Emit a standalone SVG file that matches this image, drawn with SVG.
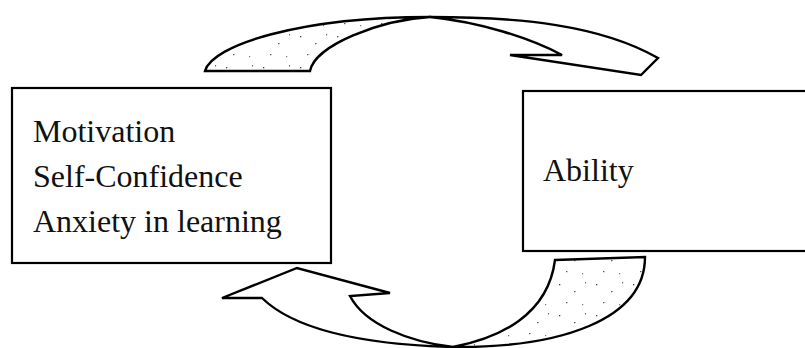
<svg xmlns="http://www.w3.org/2000/svg" width="805" height="348" viewBox="0 0 805 348">
<style>
.box{fill:#fff;stroke:#000;stroke-width:2.2}
.lbl{font-family:"Liberation Serif","Times New Roman",serif;font-size:32px;fill:#111}
.arr{stroke:#000;stroke-width:2.4;stroke-linejoin:miter}
.plain{fill:#fff}
.dots{fill:url(#stip)}
</style>
<defs>
<pattern id="stip" width="37" height="31" patternUnits="userSpaceOnUse">
<rect width="37" height="31" fill="#fff"/>
<rect x="4" y="5" width="1.3" height="1.3" fill="#444"/>
<rect x="19" y="12" width="1.5" height="1.2" fill="#555"/>
<rect x="30" y="3" width="1.1" height="1.4" fill="#666"/>
<rect x="11" y="23" width="1.4" height="1.2" fill="#555"/>
<rect x="27" y="25" width="1.2" height="1.2" fill="#777"/>
</pattern>
</defs>
<rect width="805" height="348" fill="#fff"/>
<g id="connectors">
<path class="arr dots" d="M205,71 C212,45 300,17 430,17 C380,20 315,45 310,71 Z"/>
<path class="arr plain" d="M430,17 C520,17 600,25 658,58 L641,75 L510,55 L562,55 C530,38 480,22 430,17 Z"/>
<path class="arr dots" d="M555,260 L645,257 C645,320 560,348 453,347 C500,338 548,315 555,260 Z"/>
<path class="arr plain" d="M453,347 C380,345 300,335 262,298 L222,298 L297,268 L390,293 L350,296 C365,325 410,342 453,347 Z"/>
</g>
<g id="node-left">
<rect class="box" x="12" y="88" width="319" height="175"/>
<text class="lbl" x="33" y="142">Motivation</text>
<text class="lbl" x="33" y="187">Self-Confidence</text>
<text class="lbl" x="33" y="232">Anxiety in learning</text>
</g>
<g id="node-right">
<rect class="box" x="523" y="91" width="290" height="160"/>
<text class="lbl" x="543" y="181">Ability</text>
</g>
</svg>
